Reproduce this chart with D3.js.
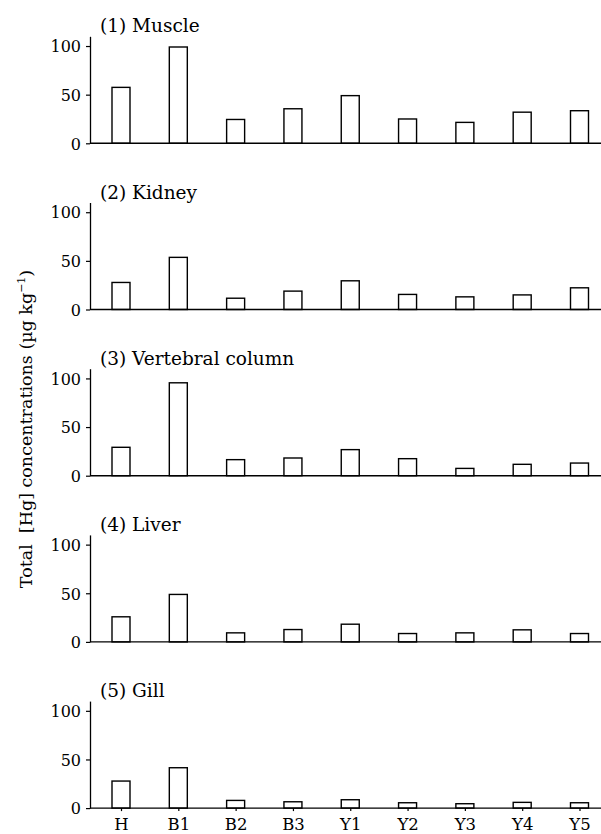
<!DOCTYPE html>
<html>
<head>
<meta charset="utf-8">
<script src="https://cdn.jsdelivr.net/npm/d3@7"></script>
<style>
  body { margin: 0; background: #fff; }
  text { font-family: "DejaVu Serif", serif; fill: #000; }
</style>
</head>
<body>
<div id="chart"></div>
<script>
// sites along the x axis
const categories = ["H", "B1", "B2", "B3", "Y1", "Y2", "Y3", "Y4", "Y5"];
const panelTitles = ["(1) Muscle", "(2) Kidney", "(3) Vertebral column", "(4) Liver", "(5) Gill"];
// total Hg, ug/kg
const muscle    = [57.5, 99, 24.5, 35.5, 49, 25, 21.5, 32, 33.5];
const kidney    = [27.8, 53.6, 11.6, 18.9, 29.5, 15.5, 13, 15, 22.3];
const vertebral = [29.2, 95.5, 16.5, 18.2, 26.8, 17.5, 7.5, 11.7, 13];
const liver     = [25.8, 48.8, 9.3, 12.7, 18.2, 8.6, 9.3, 12.4, 8.6];
const gill      = [27.8, 41.5, 7.9, 6.5, 8.6, 5.5, 4.5, 5.9, 5.5];
const yTicks = [0, 50, 100];
const yMax = 110;

const panels = [muscle, kidney, vertebral, liver, gill];

const W = 601, H = 834;
const axisX = 90;
const firstZero = 143.3, panelStep = 166.2, plotH = 107;
const barW = 18;

const svg = d3.select("#chart").append("svg")
  .attr("width", W)
  .attr("height", H);

const x = d3.scalePoint()
  .domain(categories)
  .range([121, 579.5]);

panels.forEach(function(vals, i) {
  const zero = firstZero + i * panelStep;
  const y = d3.scaleLinear().domain([0, yMax]).range([zero, zero - plotH]);
  const g = svg.append("g");

  // bars
  g.selectAll("rect").data(vals).enter()
    .append("rect")
    .attr("x", (d, j) => x(categories[j]) - barW / 2)
    .attr("y", d => y(d))
    .attr("width", barW)
    .attr("height", d => y(0) - y(d))
    .attr("fill", "#fff")
    .attr("stroke", "#000")
    .attr("stroke-width", 1.4);

  // y axis
  const ya = g.append("g")
    .attr("transform", "translate(" + axisX + ",0)")
    .call(d3.axisLeft(y).tickValues(yTicks).tickSize(4).tickSizeOuter(0).tickPadding(5));
  ya.select(".domain").attr("stroke", "#000").attr("stroke-width", 1.3);
  ya.selectAll(".tick line").attr("stroke", "#000").attr("stroke-width", 1.2);
  ya.selectAll(".tick text").style("font-size", "16px").attr("dy", "0.36em");

  // baseline
  g.append("line")
    .attr("x1", axisX).attr("x2", W)
    .attr("y1", y(0)).attr("y2", y(0))
    .attr("stroke", "#000").attr("stroke-width", 1.4);

  // x axis labels only on the last panel
  if (i === panels.length - 1) {
    const xa = g.append("g")
      .attr("transform", "translate(0," + y(0) + ")")
      .call(d3.axisBottom(x).tickSize(3).tickPadding(7));
    xa.select(".domain").remove();
    xa.selectAll(".tick line").attr("stroke", "#000").attr("stroke-width", 1.2);
    xa.selectAll(".tick text").style("font-size", "16.5px");
  }

  // panel title
  g.append("text")
    .attr("x", 100)
    .attr("y", y(yMax) - 4)
    .style("font-size", "18.5px")
    .text(panelTitles[i]);
});

// y axis label
svg.append("text")
  .attr("transform", "translate(32,429) rotate(-90)")
  .attr("text-anchor", "middle")
  .style("font-size", "17.5px")
  .style("white-space", "pre")
  .html("Total&#160; [Hg] concentrations (µg kg<tspan dy='-7' style='font-size:11px'>−1</tspan><tspan dy='7'>)</tspan>");
</script>
</body>
</html>
